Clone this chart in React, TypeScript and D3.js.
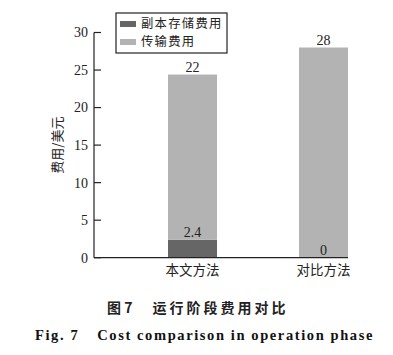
import React from "react";
import * as d3 from "d3";

const categories = ["本文方法", "对比方法"];
const seriesNames = ["副本存储费用", "传输费用"];
const storageCost = [2.4, 0];
const transferCost = [22, 28];
const yTicks = [0, 5, 10, 15, 20, 25, 30];
const seriesColors = ["#666666", "#b3b3b3"];

const W = 393, H = 355;
const axisX = 94, axisRight = 348, y0px = 257.7, y30px = 32.5;
const barW = 49;

export default function App() {
  const y = d3.scaleLinear().domain([0, 30]).range([y0px, y30px]);
  const x = d3.scalePoint<string>().domain(categories).range([192.5, 323.5]);
  const stackData = categories.map((c, i) => ({ cat: c, s: storageCost[i], t: transferCost[i] }));
  const stack = d3.stack<any>().keys(["s", "t"])(stackData);
  const num = "'Liberation Serif', 'Times New Roman', serif";
  const cjk = "'Noto Sans CJK SC', sans-serif";
  return (
    <svg width={W} height={H} style={{ position: "absolute", left: 0, top: 0, background: "#fff" }}>
      {stack.map((layer, li) =>
        layer.map((d, i) => (
          <rect key={`${li}-${i}`} x={x(categories[i])! - barW / 2} y={y(d[1])} width={barW}
            height={y(d[0]) - y(d[1])} fill={seriesColors[li]} />
        ))
      )}
      {/* value labels */}
      {categories.map((c, i) => (
        <g key={c}>
          <text x={x(c)} y={y(storageCost[i]) - 3} textAnchor="middle" fontFamily={num} fontSize={14} fill="#222">
            {String(storageCost[i])}
          </text>
          <text x={x(c)} y={y(storageCost[i] + transferCost[i]) - 3} textAnchor="middle" fontFamily={num} fontSize={14} fill="#222">
            {String(transferCost[i])}
          </text>
        </g>
      ))}
      {/* axes */}
      <line x1={axisX} x2={axisX} y1={y(30)} y2={y(0)} stroke="#222" strokeWidth={1.2} />
      <line x1={axisX} x2={axisRight} y1={y(0)} y2={y(0)} stroke="#222" strokeWidth={1.2} />
      {yTicks.map((t) => (
        <g key={t}>
          <line x1={axisX} x2={axisX + 7} y1={y(t)} y2={y(t)} stroke="#222" strokeWidth={1.2} />
          <text x={axisX - 6} y={y(t)} dy="0.35em" textAnchor="end" fontFamily={num} fontSize={14} fill="#222">{t}</text>
        </g>
      ))}
      {categories.map((c) => (
        <text key={c} x={x(c)} y={275} textAnchor="middle" fontFamily={cjk} fontSize={13.5} fill="#222">{c}</text>
      ))}
      <text transform={`translate(62,${(y(0) + y(30)) / 2}) rotate(-90)`} textAnchor="middle" fontFamily={cjk} fontSize={13} fill="#222">费用/美元</text>
      {/* legend */}
      <rect x={116} y={13} width={111} height={40} fill="#fff" stroke="#222" strokeWidth={1.2} />
      {seriesNames.map((n, i) => (
        <g key={n}>
          <rect x={120} y={21 + i * 18} width={16} height={6} fill={seriesColors[i]} />
          <text x={141} y={24 + i * 18} dy="0.35em" fontFamily={cjk} fontSize={12.3} letterSpacing={1.3} fill="#222">{n}</text>
        </g>
      ))}
      {/* caption */}
      <text x={107} y={313} fontFamily={cjk} fontWeight="bold" fontSize={14} fill="#222">
        图 7<tspan dx={20} letterSpacing={3}>运行阶段费用对比</tspan>
      </text>
      <text x={35} y={340} fontFamily={num} fontWeight="bold" fontSize={14.5} fill="#111" letterSpacing={1.6}>
        Fig. 7<tspan dx={18}>Cost comparison in operation phase</tspan>
      </text>
    </svg>
  );
}
